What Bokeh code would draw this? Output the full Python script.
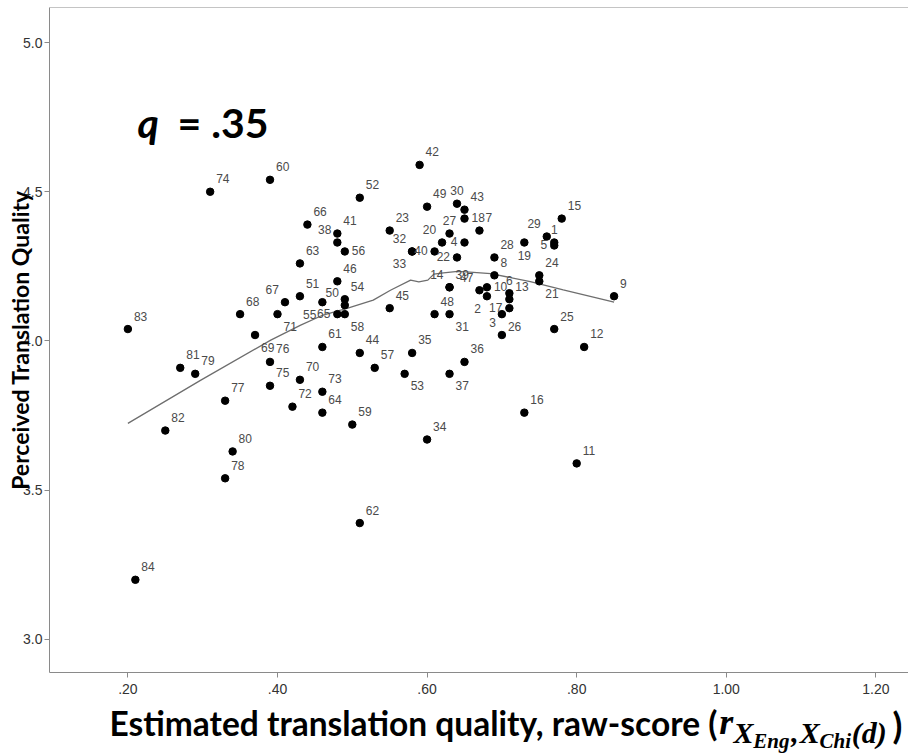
import math
from bokeh.plotting import figure
from bokeh.layouts import column
from bokeh.models import (ColumnDataSource, Label, FixedTicker, Range1d,
                          CustomJSTickFormatter, Span)
from bokeh.core.properties import value
from bokeh.embed import file_html
from bokeh.resources import INLINE

# ---------------- data ----------------
case_ids = list(range(1, 85))
est_quality = [0.77, 0.68, 0.70, 0.65, 0.77, 0.71, 0.67, 0.69, 0.85, 0.68,
               0.80, 0.81, 0.71, 0.63, 0.78, 0.73, 0.71, 0.65, 0.73, 0.62,
               0.75, 0.64, 0.55, 0.75, 0.77, 0.70, 0.63, 0.69, 0.76, 0.64,
               0.63, 0.58, 0.58, 0.60, 0.58, 0.65, 0.63, 0.48, 0.63, 0.61,
               0.48, 0.59, 0.65, 0.51, 0.55, 0.48, 0.67, 0.61, 0.60, 0.49,
               0.43, 0.51, 0.57, 0.49, 0.46, 0.49, 0.53, 0.49, 0.50, 0.39,
               0.46, 0.51, 0.43, 0.46, 0.48, 0.44, 0.41, 0.35, 0.37, 0.43,
               0.40, 0.42, 0.46, 0.31, 0.39, 0.39, 0.33, 0.33, 0.29, 0.34,
               0.27, 0.25, 0.20, 0.21]
perceived_quality = [4.33, 4.15, 4.02, 4.33, 4.32, 4.16, 4.37, 4.22, 4.15, 4.18,
                     3.59, 3.98, 4.14, 4.18, 4.41, 3.76, 4.11, 4.41, 4.33, 4.33,
                     4.20, 4.28, 4.37, 4.22, 4.04, 4.09, 4.36, 4.28, 4.35, 4.46,
                     4.09, 4.30, 4.30, 3.67, 3.96, 3.93, 3.89, 4.33, 4.18, 4.30,
                     4.36, 4.59, 4.44, 3.96, 4.11, 4.20, 4.17, 4.09, 4.45, 4.12,
                     4.15, 4.48, 3.89, 4.14, 4.13, 4.30, 3.91, 4.09, 3.72, 4.54,
                     3.98, 3.39, 4.26, 3.76, 4.09, 4.39, 4.13, 4.09, 4.02, 3.87,
                     4.09, 3.78, 3.83, 4.50, 3.85, 3.93, 3.80, 3.54, 3.89, 3.63,
                     3.91, 3.70, 4.04, 3.20]

# fit line
fit_x = [0.200, 0.297, 0.391, 0.431, 0.461, 0.494, 0.528, 0.551, 0.578, 0.589,
         0.601, 0.609, 0.622, 0.641, 0.662, 0.685, 0.738, 0.782, 0.850]
fit_y = [3.724, 3.868, 4.003, 4.053, 4.087, 4.110, 4.137, 4.170, 4.204, 4.198,
         4.204, 4.224, 4.228, 4.233, 4.230, 4.226, 4.199, 4.171, 4.130]

x_ticks = [0.2, 0.4, 0.6, 0.8, 1.0, 1.2]
y_ticks = [3.0, 3.5, 4.0, 4.5, 5.0]

# label placement around each point (default: upper right)
placement = {1: "u", 29: "ul", 19: "d", 5: "l", 21: "lr", 26: "lr", 3: "ul",
             6: "u", 10: "r", 17: "l", 2: "ll", 47: "ul", 14: "ul", 22: "l",
             40: "l", 32: "ul", 33: "ll", 4: "l", 20: "ul", 27: "u", 30: "u",
             18: "r", 31: "lr", 53: "lr", 37: "lr", 58: "lr", 65: "l", 55: "ll",
             50: "ul", 56: "r", 38: "ul", 67: "ul", 71: "lr", 69: "lr"}
offsets = {"ur": ("left", 6, -13), "ul": ("right", -6, -13),
           "lr": ("left", 6, 12), "ll": ("right", -6, 12),
           "r": ("left", 7, -1), "l": ("right", -7, -1),
           "u": ("center", 0, -13), "d": ("center", 0, 13)}

aligns, dxs, dys = [], [], []
for cid in case_ids:
    a, dx, dy = offsets[placement.get(cid, "ur")]
    aligns.append(a)
    dxs.append(dx)
    dys.append(dy)

src = ColumnDataSource(dict(x=est_quality, y=perceived_quality,
                            label=[str(c) for c in case_ids],
                            align=aligns, dx=dxs, dy=dys))

# ---------------- main figure ----------------
p = figure(width=908, height=700, output_backend="svg", toolbar_location=None,
           x_range=Range1d(0.0952, 1.2436), y_range=Range1d(2.8894, 5.1173),
           min_border_left=49, min_border_right=0, min_border_top=7,
           min_border_bottom=28)
p.grid.visible = False
p.outline_line_color = None
p.background_fill_color = "white"
p.border_fill_color = "white"

for ax in (p.xaxis[0], p.yaxis[0]):
    ax.axis_line_color = "#8a8a8a"
    ax.major_tick_line_color = "#8a8a8a"
    ax.major_tick_in = 0
    ax.major_tick_out = 5
    ax.minor_tick_line_color = None
    ax.major_label_text_font = "Liberation Sans"
    ax.major_label_text_font_size = "14px"
    ax.major_label_text_color = "#333333"

p.xaxis.ticker = FixedTicker(ticks=x_ticks)
p.yaxis.ticker = FixedTicker(ticks=y_ticks)
p.xaxis.formatter = CustomJSTickFormatter(code="return tick.toFixed(2).replace(/^0/, '');")
p.yaxis.formatter = CustomJSTickFormatter(code="return tick.toFixed(1);")
p.xaxis.major_label_standoff = 6
p.yaxis.major_label_standoff = 2

p.yaxis.axis_label = "Perceived Translation Quality"
p.yaxis.axis_label_text_font = "Lato"
p.yaxis.axis_label_text_font_size = "23px"
p.yaxis.axis_label_text_font_style = "bold"
p.yaxis.axis_label_text_color = "black"
p.yaxis.axis_label_standoff = -14

p.add_layout(Span(location=5.1173, dimension="width", line_color="#8a8a8a", line_width=1))

p.line(fit_x, fit_y, line_color="#6e6e6e", line_width=1.3)
p.scatter("x", "y", source=src, size=7.5, color="black")
p.text("x", "y", text="label", source=src, x_offset="dx", y_offset="dy",
       text_align="align", text_baseline="middle",
       text_font=value("Liberation Sans"), text_font_size="12px",
       text_color="#4a4a4a")

# q annotation (screen units from frame bottom-left)
p.add_layout(Label(x=88, y=550, x_units="screen", y_units="screen", text="q",
                   text_font="Lato", text_font_size="41px",
                   text_font_style="bold italic", text_color="black",
                   text_baseline="middle"))
p.add_layout(Label(x=128, y=550, x_units="screen", y_units="screen", text="= .35",
                   text_font="Lato", text_font_size="41px",
                   text_font_style="bold", text_color="black",
                   text_baseline="middle"))

# ---------------- x-axis title strip ----------------
strip = figure(width=908, height=56, output_backend="svg", toolbar_location=None,
               x_range=Range1d(0, 908), y_range=Range1d(56, 0),
               x_axis_type=None, y_axis_type=None,
               min_border_left=0, min_border_right=0, min_border_top=0,
               min_border_bottom=0)
strip.grid.visible = False
strip.outline_line_color = None
strip.border_fill_color = "white"

serif = "Liberation Serif"
title_parts = [
    ("Estimated translation quality, raw-score (", 706, 22, "33.5px", "Lato", "bold", "right"),
    ("r", 708, 21, "36px", serif, "bold italic", "left"),
    ("X", 723, 32, "30px", serif, "bold italic", "left"),
    ("Eng", 744, 40, "21px", serif, "bold italic", "left"),
    (",", 784, 32, "30px", serif, "bold italic", "left"),
    ("X", 793, 32, "30px", serif, "bold italic", "left"),
    ("Chi", 814, 40, "21px", serif, "bold italic", "left"),
    ("(d)", 848, 32, "30px", serif, "bold italic", "left"),
    (")", 891, 24, "36px", "Lato", "bold", "left"),
]
for txt, tx, ty, fs, font, style, align in title_parts:
    strip.text(x=[tx], y=[ty], text=[txt], text_font=value(font),
               text_font_size=fs, text_font_style=style, text_align=align,
               text_baseline="alphabetic", text_color="black")

open("out.html", "w").write(file_html(column(p, strip), INLINE))
